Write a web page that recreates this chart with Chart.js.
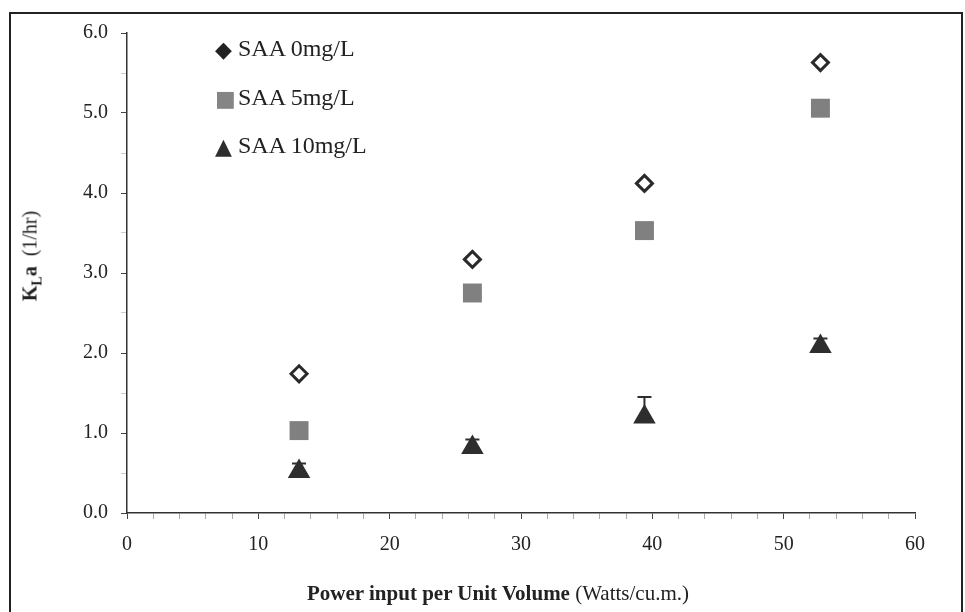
<!DOCTYPE html>
<html>
<head>
<meta charset="utf-8">
<script src="https://cdn.jsdelivr.net/npm/chart.js@4.4.0/dist/chart.umd.min.js"></script>
<style>
  body { margin: 0; background: #fff; font-family: "Liberation Serif", serif; color: #222; }
  #wrap { position: relative; width: 965px; height: 612px; overflow: hidden; }
  #frame { position: absolute; left: 9px; top: 12px; width: 954px; height: 700px; border: 2px solid #222; box-sizing: border-box; }
  canvas { position: absolute; left: 0; top: 0; }
  .leg { position: absolute; left: 215px; font-size: 24px; white-space: nowrap; line-height: 1; }
  .leg .sym { display: inline-block; width: 23px; font-family: "DejaVu Sans", sans-serif; font-size: 22px; vertical-align: -1px; }
  #xtitle { position: absolute; left: 498px; top: 593px; transform: translate(-50%, -50%); font-size: 21px; white-space: nowrap; }
  #ytitle { position: absolute; left: 32px; top: 256px; transform: translate(-50%, -50%) rotate(-90deg); font-size: 20px; white-space: nowrap; }
  #ytitle sub { font-size: 14px; }
</style>
</head>
<body>
<div id="wrap">
  <div id="frame"></div>
  <canvas id="grafico" width="965" height="612"></canvas>
  <div class="leg" style="top:36px"><span class="sym" style="color:#222">&#9670;</span><span id="leg0"></span></div>
  <div class="leg" style="top:85px"><span class="sym" style="color:#858585">&#9632;</span><span id="leg1"></span></div>
  <div class="leg" style="top:133px"><span class="sym" style="color:#2e2e2e">&#9650;</span><span id="leg2"></span></div>
  <div id="xtitle"><b>Power input per Unit Volume</b> (Watts/cu.m.)</div>
  <div id="ytitle"><b>K<sub>L</sub>a</b>&nbsp; (1/hr)</div>
</div>
<script>
// Dados
const potencia = [13.1, 26.3, 39.4, 52.8];
const kla0 = [1.74, 3.17, 4.12, 5.63];
const kla5 = [1.03, 2.75, 3.53, 5.06];
const kla10 = [0.52, 0.82, 1.20, 2.08];
const erro10 = [0.10, 0.10, 0.25, 0.10];
const nomesSeries = ['SAA 0mg/L', 'SAA 5mg/L', 'SAA 10mg/L'];

nomesSeries.forEach((n, i) => { document.getElementById('leg' + i).textContent = n; });

const pontos = ys => potencia.map((x, i) => ({ x: x, y: ys[i] }));

// Barras de erro desenhadas a partir das escalas
const barrasErro = {
  id: 'barrasErro',
  afterDatasetsDraw(chart) {
    const ctx = chart.ctx;
    chart.data.datasets.forEach(ds => {
      if (!ds.erros) return;
      ds.data.forEach((p, i) => {
        const x = chart.scales.x.getPixelForValue(p.x);
        const y0 = chart.scales.y.getPixelForValue(p.y);
        const y1 = chart.scales.y.getPixelForValue(p.y + ds.erros[i]);
        ctx.save();
        ctx.strokeStyle = '#2e2e2e';
        ctx.lineWidth = 2;
        ctx.beginPath();
        ctx.moveTo(x, y0);
        ctx.lineTo(x, y1);
        ctx.moveTo(x - 7, y1);
        ctx.lineTo(x + 7, y1);
        ctx.stroke();
        ctx.restore();
      });
    });
  }
};

const fonteTicks = { family: '"Liberation Serif", serif', size: 20 };

new Chart(document.getElementById('grafico'), {
  type: 'scatter',
  data: {
    datasets: [
      { label: nomesSeries[0], data: pontos(kla0), pointStyle: 'rectRot', pointRadius: 8,
        borderWidth: 3, borderColor: '#2a2a2a', backgroundColor: '#fff' },
      { label: nomesSeries[1], data: pontos(kla5), pointStyle: 'rect', pointRadius: 13.4,
        borderWidth: 0, borderColor: '#808080', backgroundColor: '#808080' },
      { label: nomesSeries[2], data: pontos(kla10), pointStyle: 'triangle', pointRadius: 13,
        borderWidth: 0, borderColor: '#2e2e2e', backgroundColor: '#2e2e2e', erros: erro10 }
    ]
  },
  options: {
    responsive: false,
    animation: false,
    devicePixelRatio: 1,
    layout: { padding: { left: 0, top: 33, right: 50, bottom: 0 } },
    plugins: { legend: { display: false }, tooltip: { enabled: false } },
    scales: {
      x: {
        type: 'linear', min: 0, max: 60,
        ticks: { stepSize: 2, autoSkip: false, maxRotation: 0, padding: 14, color: '#222', font: fonteTicks,
          callback: v => (v % 10 === 0 ? v : '') },
        grid: { drawOnChartArea: false, tickLength: 6,
          color: c => (c.tick && c.tick.value % 10 === 0 ? '#444' : '#aaa') },
        border: { color: '#333', width: 1.5 },
        afterFit: s => { s.height = 99; }
      },
      y: {
        min: 0, max: 6,
        ticks: { stepSize: 0.5, autoSkip: false, padding: 13, color: '#222', font: fonteTicks,
          callback: v => (Number.isInteger(v) ? v.toFixed(1) : '') },
        grid: { drawOnChartArea: false, tickLength: 6,
          color: c => (c.tick && Number.isInteger(c.tick.value) ? '#444' : '#ccc') },
        border: { color: '#333', width: 1.5 },
        afterFit: s => { s.width = 127; }
      }
    }
  },
  plugins: [barrasErro]
});
</script>
</body>
</html>
